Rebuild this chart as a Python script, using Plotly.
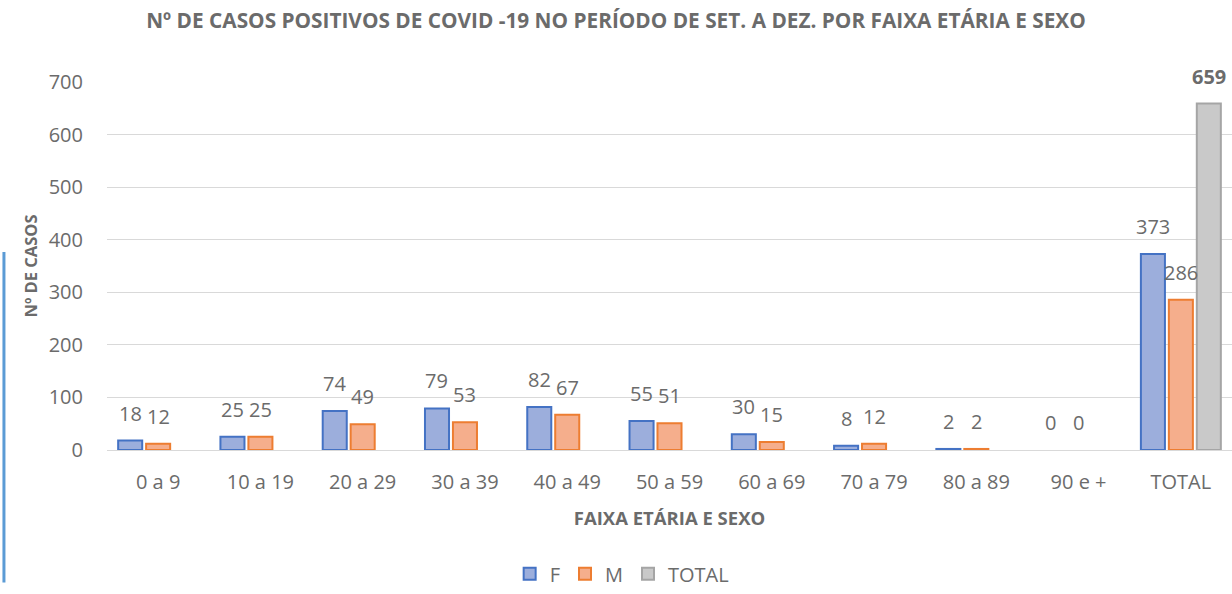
import plotly.graph_objects as go

categories = ["0 a 9", "10 a 19", "20 a 29", "30 a 39", "40 a 49", "50 a 59",
              "60 a 69", "70 a 79", "80 a 89", "90 e +", "TOTAL"]
f_values = [18, 25, 74, 79, 82, 55, 30, 8, 2, 0, 373]
m_values = [12, 25, 49, 53, 67, 51, 15, 12, 2, 0, 286]
total_values = [None, None, None, None, None, None, None, None, None, None, 659]
y_ticks = [0, 100, 200, 300, 400, 500, 600, 700]

FONT = "Open Sans"
GREY = "#6b6b6b"
LABEL = 20
SLOT = 28  # pixel offset between bar slots inside a group


def border_widths(values):
    return [0 if v == 0 else 2 for v in values]


fig = go.Figure()
fig.add_trace(go.Bar(
    name="F", x=categories, y=f_values,
    marker=dict(color="#9CAEDC",
                line=dict(color="#4472C4", width=border_widths(f_values))),
))
fig.add_trace(go.Bar(
    name="M", x=categories, y=m_values,
    marker=dict(color="#F5AE8C",
                line=dict(color="#ED7D31", width=border_widths(m_values))),
))
fig.add_trace(go.Bar(
    name="TOTAL", x=categories, y=total_values,
    marker=dict(color="#C9C9C9",
                line=dict(color="#A5A5A5", width=border_widths(total_values))),
))

annotations = []
for series, shift, bold in ((f_values, -SLOT, False), (m_values, 0, False),
                            (total_values, SLOT, True)):
    for cat, v in zip(categories, series):
        if v is None:
            continue
        annotations.append(dict(
            x=cat, y=v, xref="x", yref="y",
            text=("<b>%d</b>" % v) if bold else str(v),
            showarrow=False, xshift=shift, yshift=12,
            xanchor="center", yanchor="bottom",
            font=dict(family=FONT, size=LABEL, color=GREY),
        ))

fig.update_layout(
    width=1232, height=594,
    paper_bgcolor="white", plot_bgcolor="white",
    margin=dict(l=107, r=0, t=82, b=144),
    barmode="group", bargap=0.18, bargroupgap=0.14,
    font=dict(family=FONT, color=GREY),
    title=dict(
        text="<b>Nº DE CASOS POSITIVOS DE COVID -19 NO PERÍODO DE SET. A DEZ. POR FAIXA ETÁRIA E SEXO</b>",
        x=0.5, xref="container", xanchor="center",
        y=0.965, yref="container", yanchor="middle",
        font=dict(family=FONT, size=20.8, color=GREY),
    ),
    xaxis=dict(
        showgrid=False, showline=True, linecolor="#D9D9D9", linewidth=1,
        ticks="", tickfont=dict(family=FONT, size=20, color=GREY),
        ticklabelstandoff=14,
        title=dict(text="<b>FAIXA ETÁRIA E SEXO</b>", standoff=18,
                   font=dict(family=FONT, size=18.5, color=GREY)),
    ),
    yaxis=dict(
        range=[0, 700], tickvals=y_ticks,
        showgrid=True, gridcolor="#D9D9D9", gridwidth=1,
        zeroline=False, showline=False, ticks="",
        tickfont=dict(family=FONT, size=20, color=GREY),
        ticklabelstandoff=23,
        title=dict(text="<b>Nº DE CASOS</b>", standoff=6,
                   font=dict(family=FONT, size=16.5, color=GREY)),
    ),
    legend=dict(
        orientation="h", x=0.505, xref="container", xanchor="center",
        y=0.034, yref="container", yanchor="middle",
        font=dict(family=FONT, size=20, color=GREY),
        itemwidth=30, traceorder="normal",
    ),
    annotations=annotations,
    shapes=[dict(type="line", xref="paper", yref="paper",
                 x0=-0.0916, x1=-0.0916, y0=0.538, y1=-0.36,
                 line=dict(color="#5B9BD5", width=3))],
)

fig.write_html("out.html", config={"displayModeBar": False},
               post_script="document.body.style.margin='0';")
